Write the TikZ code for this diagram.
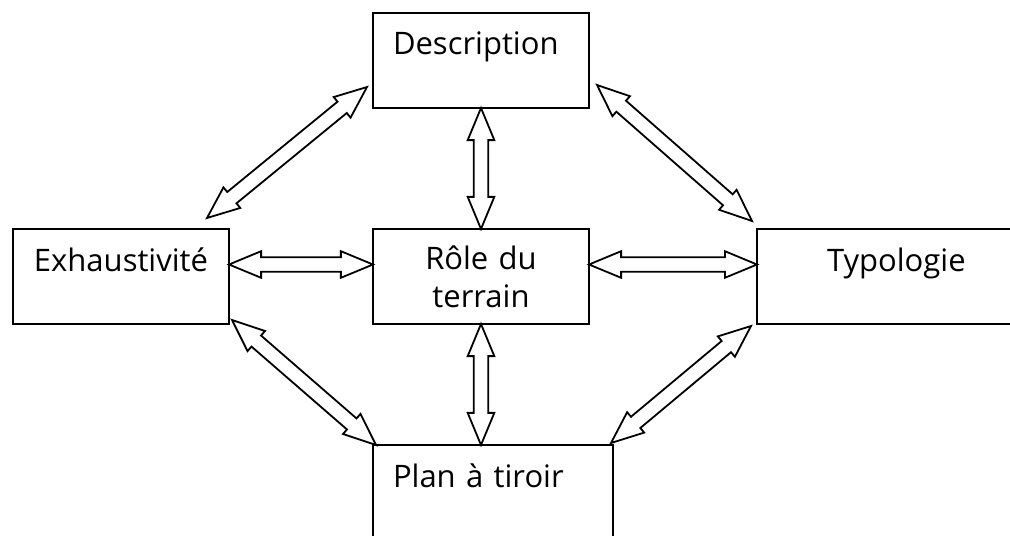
\documentclass[tikz,border=0pt]{standalone}
\usepackage{fontspec}
\setmainfont{Open Sans}
\usetikzlibrary{calc,shapes.arrows}

\tikzset{
  box/.style={draw, line width=1pt, inner ysep=0pt, inner xsep=10pt,
    outer sep=0pt, font=\fontsize{15.5}{19}\selectfont},
  boxtop/.style={box, text height=21pt, text depth=26.5pt},
  twoway/.style={double arrow, draw, line width=0.9pt, inner sep=3.2pt,
    outer sep=0pt, minimum width=0pt, double arrow head extend=3pt,
    double arrow tip angle=45},
}
\newcommand\twowayarrow[2]{%
  \path let \p1=($(#2)-(#1)$), \n1={veclen(\x1,\y1)} in
    node[twoway, minimum height=\n1, rotate={atan2(\y1,\x1)}]
    at ($(#1)!0.5!(#2)$) {};}

\begin{document}
\begin{tikzpicture}[x=0.5pt, y=-0.5pt]
  \useasboundingbox (0,0) rectangle (1010,535);
  % boxes
  \node[boxtop, anchor=north west, text width=88pt, align=left]
    (desc) at (373,13) {Description};
  \node[boxtop, anchor=north west, text width=88pt, align=center]
    (exh) at (13,229) {Exhaustivité};
  \node[box, anchor=north west, text width=88pt, minimum height=47.5pt,
    align=center] (role) at (373,229) {Rôle du\\terrain};
  \node[boxtop, anchor=north west, inner xsep=35pt, text width=90pt,
    align=left] (typ) at (757,229) {Typologie};
  \node[boxtop, anchor=north west, text width=100pt, align=left]
    (plan) at (373,445) {Plan à tiroir};
  % ends of the arrows
  \coordinate (ed) at ([shift={(-11pt,5.5pt)}]exh.north east);
  \coordinate (de) at ([shift={(-3pt,10.5pt)}]desc.south west);
  \coordinate (dt) at ([shift={(4pt,11.5pt)}]desc.south east);
  \coordinate (td) at ([shift={(-2.5pt,4pt)}]typ.north west);
  \coordinate (er) at ([yshift=6pt]exh.east);
  \coordinate (re) at ([yshift=6pt]role.west);
  \coordinate (rt) at ([yshift=6pt]role.east);
  \coordinate (tr) at ([yshift=6pt]typ.west);
  \coordinate (ep) at ([shift={(1.5pt,2pt)}]exh.south east);
  \coordinate (pe) at ([shift={(1.5pt,0pt)}]plan.north west);
  \coordinate (pt) at ([shift={(-1pt,1pt)}]plan.north east);
  \coordinate (tp) at ([shift={(-3pt,-1pt)}]typ.south west);
  \coordinate (pr) at (role.south |- plan.north);
  % arrows
  \foreach \from/\to in
    { ed/de, dt/td, er/re, rt/tr, ep/pe, pt/tp,
      desc.south/role.north, role.south/pr}
  \twowayarrow{\from}{\to};
\end{tikzpicture}
\end{document}
